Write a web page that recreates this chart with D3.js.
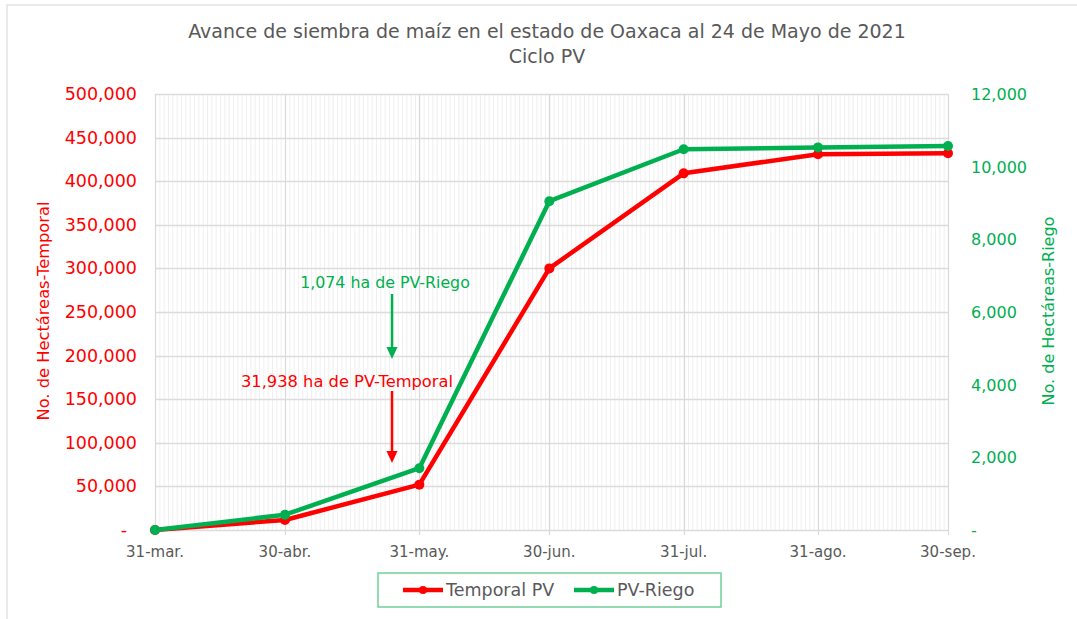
<!DOCTYPE html>
<html>
<head>
<meta charset="utf-8">
<script src="https://cdn.jsdelivr.net/npm/d3@7"></script>
<style>
  body { margin: 0; background: #fff; }
  text { font-family: "DejaVu Sans", "Noto Sans", sans-serif; }
</style>
</head>
<body>
<div id="chart"></div>
<script>
// fechas de corte (fin de mes)
const dates = ["2021-03-31", "2021-04-30", "2021-05-31", "2021-06-30", "2021-07-31", "2021-08-31", "2021-09-30"];
const tickLabels = ["31-mar.", "30-abr.", "31-may.", "30-jun.", "31-jul.", "31-ago.", "30-sep."];
const temporal = [0, 11500, 52000, 300000, 409000, 431000, 432000];
const riego = [0, 420, 1700, 9050, 10480, 10530, 10570];
const leftTicks = [0, 50000, 100000, 150000, 200000, 250000, 300000, 350000, 400000, 450000, 500000];
const rightTicks = [0, 2000, 4000, 6000, 8000, 10000, 12000];

const width = 1077;
const height = 619;
const margin = { top: 94, right: 129, bottom: 89, left: 155 };
const red = "#ff0000";
const green = "#00b050";
const gray = "#595959";

const parse = d3.timeParse("%Y-%m-%d");
const dateObjs = dates.map(parse);

const svg = d3.select("#chart")
  .append("svg")
  .attr("width", width)
  .attr("height", height);

// marco exterior
svg.append("rect")
  .attr("x", 7).attr("y", 5)
  .attr("width", width).attr("height", height)
  .attr("fill", "none")
  .attr("stroke", "#e3e3e3")
  .attr("stroke-width", 1.5);

const x = d3.scaleTime()
  .domain(d3.extent(dateObjs))
  .range([margin.left, width - margin.right]);

const yL = d3.scaleLinear()
  .domain([0, 500000])
  .range([height - margin.bottom, margin.top]);

const yR = d3.scaleLinear()
  .domain([0, 12000])
  .range([height - margin.bottom, margin.top]);

// rejilla menor diaria
const days = d3.timeDay.range(dateObjs[0], d3.timeDay.offset(dateObjs[6], 1));
svg.append("g")
  .selectAll("line")
  .data(days)
  .enter()
  .append("line")
  .attr("x1", d => x(d) + 0.5).attr("x2", d => x(d) + 0.5)
  .attr("y1", margin.top).attr("y2", height - margin.bottom)
  .attr("stroke", "#f0f0f0")
  .attr("stroke-width", 1);

// rejilla horizontal
svg.append("g")
  .selectAll("line")
  .data(leftTicks)
  .enter()
  .append("line")
  .attr("x1", margin.left).attr("x2", width - margin.right)
  .attr("y1", d => Math.round(yL(d)) + 0.5).attr("y2", d => Math.round(yL(d)) + 0.5)
  .attr("stroke", "#dcdcdc")
  .attr("stroke-width", 1.3);

// rejilla vertical mayor
svg.append("g")
  .selectAll("line")
  .data(dateObjs)
  .enter()
  .append("line")
  .attr("x1", d => Math.round(x(d)) + 0.5).attr("x2", d => Math.round(x(d)) + 0.5)
  .attr("y1", margin.top).attr("y2", height - margin.bottom + 5)
  .attr("stroke", "#d9d9d9")
  .attr("stroke-width", 1.2);

// eje x
svg.append("g")
  .selectAll("text")
  .data(dateObjs)
  .enter()
  .append("text")
  .attr("x", d => x(d))
  .attr("y", 557)
  .attr("text-anchor", "middle")
  .attr("fill", gray)
  .attr("font-size", 15)
  .text((d, i) => tickLabels[i]);

// eje izquierdo
svg.append("g")
  .selectAll("text")
  .data(leftTicks)
  .enter()
  .append("text")
  .attr("x", d => d === 0 ? 127 : 137)
  .attr("y", d => yL(d) + 6)
  .attr("text-anchor", "end")
  .attr("fill", red)
  .attr("font-size", 17.5)
  .text(d => d === 0 ? "-" : d3.format(",")(d));

// eje derecho
svg.append("g")
  .selectAll("text")
  .data(rightTicks)
  .enter()
  .append("text")
  .attr("x", 971)
  .attr("y", d => yR(d) + 6)
  .attr("text-anchor", "start")
  .attr("fill", green)
  .attr("font-size", 16)
  .text(d => d === 0 ? "-" : d3.format(",")(d));

// títulos de ejes
svg.append("text")
  .attr("transform", "translate(49,311) rotate(-90)")
  .attr("text-anchor", "middle")
  .attr("fill", red)
  .attr("font-size", 16.3)
  .text("No. de Hectáreas-Temporal");

svg.append("text")
  .attr("transform", "translate(1054,311) rotate(-90)")
  .attr("text-anchor", "middle")
  .attr("fill", green)
  .attr("font-size", 16)
  .text("No. de Hectáreas-Riego");

// título
svg.append("text")
  .attr("x", 547).attr("y", 38)
  .attr("text-anchor", "middle")
  .attr("fill", gray)
  .attr("font-size", 19)
  .text("Avance de siembra de maíz en el estado de Oaxaca al 24 de Mayo de 2021");
svg.append("text")
  .attr("x", 547).attr("y", 63)
  .attr("text-anchor", "middle")
  .attr("fill", gray)
  .attr("font-size", 19)
  .text("Ciclo PV");

// series
const series = [
  { name: "Temporal PV", values: temporal, y: yL, color: red },
  { name: "PV-Riego", values: riego, y: yR, color: green }
];

series.forEach(s => {
  const line = d3.line()
    .x((d, i) => x(dateObjs[i]))
    .y(d => s.y(d));
  svg.append("path")
    .datum(s.values)
    .attr("d", line)
    .attr("fill", "none")
    .attr("stroke", s.color)
    .attr("stroke-width", 4.5)
    .attr("stroke-linejoin", "round");
  svg.append("g")
    .selectAll("circle")
    .data(s.values)
    .enter()
    .append("circle")
    .attr("cx", (d, i) => x(dateObjs[i]))
    .attr("cy", d => s.y(d))
    .attr("r", 5)
    .attr("fill", s.color);
});

// anotaciones con flecha
function arrow(xa, y0, y1, color) {
  svg.append("line")
    .attr("x1", xa).attr("x2", xa)
    .attr("y1", y0).attr("y2", y1 - 10)
    .attr("stroke", color).attr("stroke-width", 2.5);
  svg.append("path")
    .attr("d", `M${xa - 5.5},${y1 - 12} L${xa + 5.5},${y1 - 12} L${xa},${y1} Z`)
    .attr("fill", color);
}

svg.append("text")
  .attr("x", 385).attr("y", 288)
  .attr("text-anchor", "middle")
  .attr("fill", green)
  .attr("font-size", 15.8)
  .text("1,074 ha de PV-Riego");
arrow(392, 294, 359, green);

svg.append("text")
  .attr("x", 347).attr("y", 387)
  .attr("text-anchor", "middle")
  .attr("fill", red)
  .attr("font-size", 16.3)
  .text("31,938 ha de PV-Temporal");
arrow(392, 391, 463, red);

// leyenda
const legend = svg.append("g");
legend.append("rect")
  .attr("x", 378).attr("y", 573)
  .attr("width", 343).attr("height", 34)
  .attr("fill", "#fff")
  .attr("stroke", "#6fd09a")
  .attr("stroke-width", 1.5);
const legendItems = [
  { x: 403, s: series[0] },
  { x: 574, s: series[1] }
];
legendItems.forEach(it => {
  legend.append("line")
    .attr("x1", it.x).attr("x2", it.x + 40)
    .attr("y1", 590).attr("y2", 590)
    .attr("stroke", it.s.color).attr("stroke-width", 4.5);
  legend.append("circle")
    .attr("cx", it.x + 20).attr("cy", 590).attr("r", 4)
    .attr("fill", it.s.color);
  legend.append("text")
    .attr("x", it.x + 43).attr("y", 596)
    .attr("fill", gray)
    .attr("font-size", 17.5)
    .text(it.s.name);
});
</script>
</body>
</html>
